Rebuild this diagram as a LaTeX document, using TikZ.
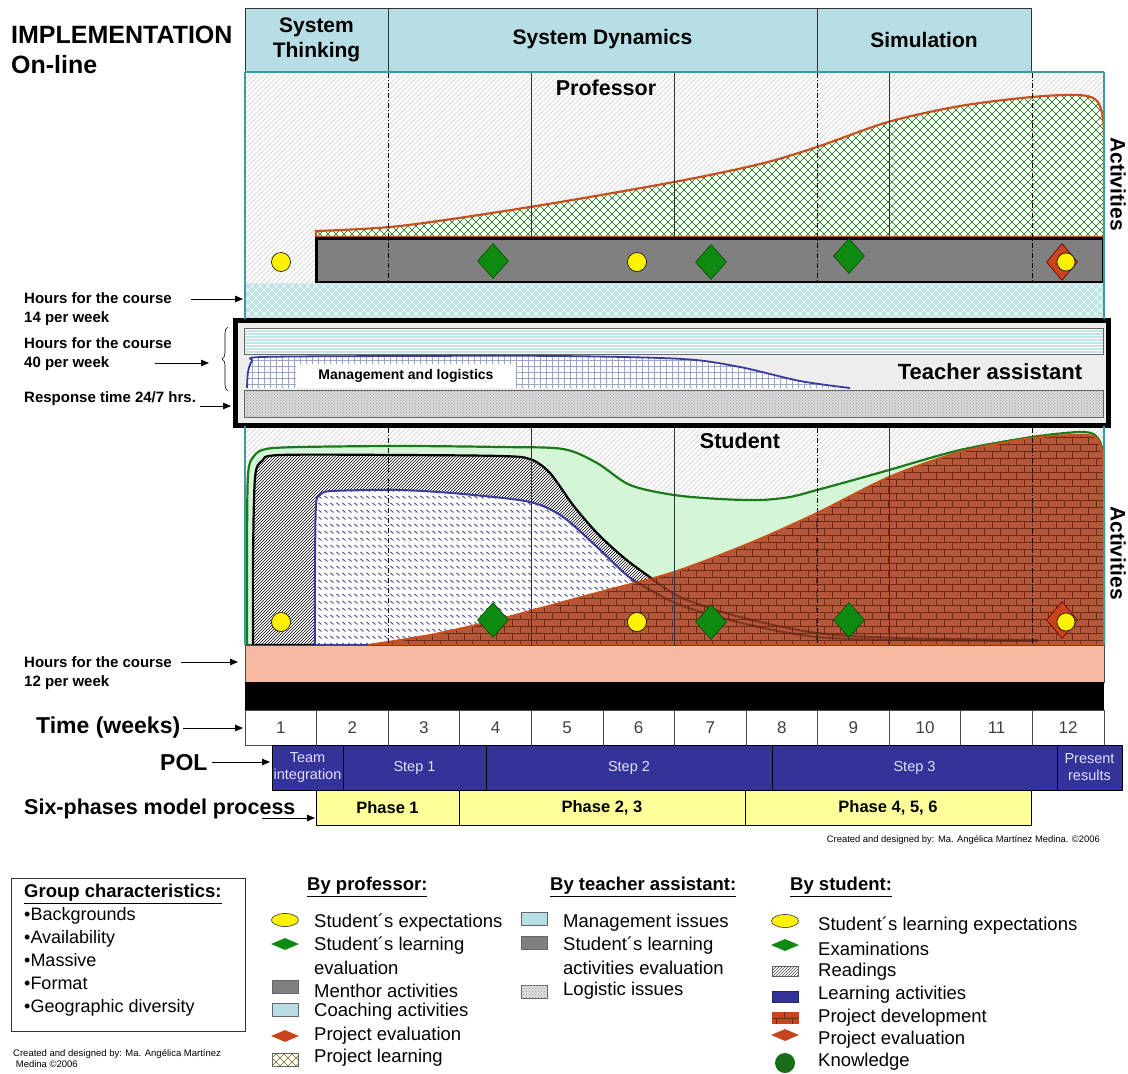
\documentclass[tikz,border=0pt]{standalone}
\usepackage{fontspec}
\setmainfont{Liberation Sans}
\usetikzlibrary{patterns,arrows.meta,decorations.pathreplacing,shapes.geometric}

\definecolor{hdrblue}{HTML}{B7DEE4}
\definecolor{tealline}{HTML}{3C9C9C}
\definecolor{cyanband}{HTML}{BFE4E6}
\definecolor{tastripe}{HTML}{C4E4E8}
\definecolor{salmon}{HTML}{F8B9A3}
\definecolor{polblue}{HTML}{333399}
\definecolor{phaseyel}{HTML}{FFFF99}
\definecolor{mint}{HTML}{D4F6D6}
\definecolor{kgreen}{HTML}{1A7A1A}
\definecolor{brickfill}{HTML}{B5573A}
\definecolor{brickline}{HTML}{6E2A14}
\definecolor{projorange}{HTML}{C8501E}
\definecolor{dgreen}{HTML}{0E8A10}
\definecolor{pred}{HTML}{C8441E}
\definecolor{mgrey}{HTML}{808080}
\definecolor{learnblue}{HTML}{3A3AA0}
\definecolor{dashblue}{HTML}{4A4A8A}
\definecolor{gridblue}{HTML}{9AA6C8}

% light background hatch
\pgfdeclarepatternformonly{lighthatch}{\pgfqpoint{-1pt}{-1pt}}{\pgfqpoint{6pt}{6pt}}{\pgfqpoint{5pt}{5pt}}{%
  \pgfsetlinewidth{0.5pt}%
  \pgfpathmoveto{\pgfqpoint{0pt}{0pt}}\pgfpathlineto{\pgfqpoint{5.1pt}{5.1pt}}\pgfusepath{stroke}}
% diamond lattice
\pgfdeclarepatternformonly{lattice}{\pgfqpoint{-1pt}{-1pt}}{\pgfqpoint{9pt}{9pt}}{\pgfqpoint{8pt}{8pt}}{%
  \pgfsetlinewidth{0.6pt}%
  \pgfpathmoveto{\pgfqpoint{0pt}{0pt}}\pgfpathlineto{\pgfqpoint{8pt}{8pt}}%
  \pgfpathmoveto{\pgfqpoint{0pt}{8pt}}\pgfpathlineto{\pgfqpoint{8pt}{0pt}}\pgfusepath{stroke}}
% brick wall
\pgfdeclarepatternformonly{brickwall}{\pgfqpoint{-1pt}{-1pt}}{\pgfqpoint{17pt}{15pt}}{\pgfqpoint{16pt}{14pt}}{%
  \pgfsetlinewidth{0.7pt}%
  \pgfpathmoveto{\pgfqpoint{0pt}{0pt}}\pgfpathlineto{\pgfqpoint{16pt}{0pt}}%
  \pgfpathmoveto{\pgfqpoint{0pt}{7pt}}\pgfpathlineto{\pgfqpoint{16pt}{7pt}}%
  \pgfpathmoveto{\pgfqpoint{0pt}{0pt}}\pgfpathlineto{\pgfqpoint{0pt}{7pt}}%
  \pgfpathmoveto{\pgfqpoint{8pt}{7pt}}\pgfpathlineto{\pgfqpoint{8pt}{14pt}}\pgfusepath{stroke}}
% rows of short dashes
\pgfdeclarepatternformonly{dashrows}{\pgfqpoint{-1pt}{-1pt}}{\pgfqpoint{7pt}{8pt}}{\pgfqpoint{6pt}{7pt}}{%
  \pgfsetlinewidth{0.9pt}%
  \pgfpathmoveto{\pgfqpoint{0.5pt}{4pt}}\pgfpathlineto{\pgfqpoint{3.5pt}{1.5pt}}\pgfusepath{stroke}}
% fine grid
\pgfdeclarepatternformonly{finegrid}{\pgfqpoint{-1pt}{-1pt}}{\pgfqpoint{7pt}{7pt}}{\pgfqpoint{6pt}{6pt}}{%
  \pgfsetlinewidth{0.4pt}%
  \pgfpathmoveto{\pgfqpoint{0pt}{0pt}}\pgfpathlineto{\pgfqpoint{6pt}{0pt}}%
  \pgfpathmoveto{\pgfqpoint{0pt}{0pt}}\pgfpathlineto{\pgfqpoint{0pt}{6pt}}\pgfusepath{stroke}}

\tikzset{
  hdrbox/.style={draw=black!80, line width=0.8pt, fill=hdrblue, align=center,
    font=\bfseries\fontsize{21}{25}\selectfont, inner sep=0},
  sidelbl/.style={font=\bfseries\fontsize{15}{19}\selectfont, align=left, inner sep=0, anchor=north west},
  biglbl/.style={font=\bfseries\fontsize{23}{25}\selectfont, inner sep=0, anchor=west},
  arr/.style={-{Triangle[length=8pt,width=6.5pt]}, line width=0.9pt},
  timecell/.style={draw=black!70, line width=0.7pt, fill=white, minimum width=71.58, minimum height=35,
    inner sep=0, font=\fontsize{17}{19}\selectfont, text=black!75},
  polcell/.style={draw=black, line width=0.6pt, fill=polblue, minimum height=45, inner sep=0,
    align=center, font=\fontsize{14.5}{17}\selectfont, text={rgb,255:red,224;green,224;blue,255}},
  phasecell/.style={draw=black, line width=0.7pt, fill=phaseyel, minimum height=35, inner sep=0,
    font=\bfseries\fontsize{16.5}{18}\selectfont},
  ycirc/.style={circle, fill=yellow, draw=black, line width=0.6pt, minimum size=19, inner sep=0},
  gdiam/.style={diamond, fill=dgreen, draw=black!70!green, line width=0.6pt, minimum width=31, minimum height=35, inner sep=0},
  rdiam/.style={diamond, fill=pred, draw=black!60!red, line width=0.6pt, minimum width=31, minimum height=37, inner sep=0},
  vdash/.style={line width=0.6pt, dash pattern=on 5pt off 2pt on 1pt off 2pt},
  vsolid/.style={line width=0.5pt, black!80},
  paneltitle/.style={font=\bfseries\fontsize{21.5}{24}\selectfont, inner sep=0},
  legtxt/.style={font=\fontsize{18.5}{21}\selectfont, inner sep=0, anchor=west},
  leghead/.style={font=\bfseries\fontsize{18.5}{21}\selectfont, inner sep=0, anchor=west},
  legrect/.style={draw=black!60, line width=0.7pt, minimum width=26, minimum height=13, inner sep=0},
  legdiam/.style={diamond, draw=none, minimum width=28, minimum height=12, inner sep=0},
  legell/.style={ellipse, draw=black!70, fill=yellow, line width=0.7pt, minimum width=27, minimum height=13, inner sep=0},
}

\begin{document}
\begin{tikzpicture}[x=1pt,y=-1pt]
\useasboundingbox (0,0) rectangle (1128,1074);

% ---------- title ----------
\node[inner sep=0, anchor=west, font=\bfseries\fontsize{25}{27}\selectfont] (title) at (11,35) {IMPLEMENTATION};
\node[inner sep=0, anchor=west, font=\bfseries\fontsize{25}{27}\selectfont] (subtitle) at (11,65) {On-line};

% ---------- header ----------
\node[hdrbox, minimum width=143, minimum height=63] (hST) at (316.5,39.5) {System\\Thinking};
\node[hdrbox, minimum width=429, minimum height=63] (hSD) at (602.5,39.5) {System Dynamics};
\node[hdrbox, minimum width=214, minimum height=63] (hSim) at (924,39.5) {Simulation};

% ---------- professor panel ----------
\fill[white] (245,72) rectangle (1104,283);
\path[pattern=lighthatch, pattern color=gray!40] (245,72) rectangle (1104,283);
\path[preaction={fill=white}, pattern=lattice, pattern color=green!45!black,
      postaction={draw=projorange, line width=2.2pt}]
  (316,237) -- plot[smooth, tension=0.5] coordinates {(316,231) (400,226) (530,207) (674,182) (760,164)
   (817,147) (888,122) (960,106) (1032,97) (1078,95) (1096,100) (1103,118) (1104,160) (1104,237)} -- cycle;
\foreach \xx in {531,674,889} \draw[vsolid] (\xx,73) -- (\xx,237);
\draw[fill=mgrey, line width=3pt] (316,238) rectangle (1103,282);
\foreach \xx in {388,817,1032} \draw[vdash] (\xx,73) -- (\xx,282);
\node[paneltitle] (profT) at (606,88) {Professor};
\node[paneltitle, font=\bfseries\fontsize{21}{24}\selectfont, rotate=-90] (actP) at (1118,184) {Activities};

\node[ycirc] (pm1) at (281,262) {};
\node[gdiam] (pm2) at (493,261) {};
\node[ycirc] (pm3) at (637,262) {};
\node[gdiam] (pm4) at (711,262) {};
\node[gdiam] (pm5) at (849,256) {};
\node[rdiam] (pm6) at (1062,262) {};
\node[ycirc, minimum size=18] (pm7) at (1066,262) {};

% ---------- coaching band ----------
\path[fill=cyanband] (245,283) rectangle (1104,318);
\path[pattern=lattice, pattern color=white] (245,283) rectangle (1104,318);

% ---------- teacher assistant ----------
\draw[fill=gray!14, line width=5pt] (235,320) rectangle (1108,425);
\path[fill=tastripe] (244,328) rectangle (1103,354);
\path[pattern=horizontal lines, pattern color=white] (244,328) rectangle (1103,354);
\draw[black!60, line width=0.6pt] (244,328) rectangle (1103,354);
\path[preaction={fill=white}, pattern=finegrid, pattern color=gridblue]
  (247,388) -- plot[smooth, tension=0.5] coordinates {(247,388) (248,372) (252,361) (262,357) (400,356)
   (560,356) (683,359) (740,367) (800,381) (850,388)} -- cycle;
\draw[learnblue, line width=1.8pt] plot[smooth, tension=0.5] coordinates {(247,388) (248,372) (252,361)
   (262,357) (400,356) (560,356) (683,359) (740,367) (800,381) (850,388)};
\node[fill=white, inner sep=0, minimum width=220, minimum height=24,
      font=\bfseries\fontsize{14}{16}\selectfont] (mgmt) at (406,376) {Management and logistics};
\path[fill=gray!30] (244,390) rectangle (1103,417);
\path[pattern=crosshatch dots, pattern color=gray!75] (244,390) rectangle (1103,417);
\draw[black!60, line width=0.6pt] (244,390) rectangle (1103,417);
\node[inner sep=0, font=\bfseries\fontsize{22}{24}\selectfont] (taT) at (990,372) {Teacher assistant};

% ---------- student panel ----------
\fill[white] (245,428) rectangle (1104,645);
\path[pattern=lighthatch, pattern color=gray!40] (245,428) rectangle (1104,645);
% knowledge
\path[fill=mint, draw=kgreen, line width=2.2pt]
  (247,645) -- plot[smooth, tension=0.5] coordinates {(247,640) (247,560) (248,475) (254,456) (266,449)
   (300,447) (400,446) (500,447) (563,449) (597,463) (630,485) (674,495) (720,499) (760,500) (790,497)
   (817,490) (850,481) (889,470) (960,450) (1032,437) (1080,432) (1096,436) (1103,455) (1104,520)
   (1104,640)} -- (1104,645) -- cycle;
% readings
\path[preaction={fill=white}, pattern=north east lines, pattern color=black,
      postaction={draw=black, line width=2.2pt}]
  (253,645) -- plot[smooth, tension=0.5] coordinates {(253,642) (253,560) (255,478) (262,461) (280,455)
   (400,455) (500,456) (530,459) (550,473) (573,505) (597,533) (623,557) (647,575) (680,597) (740,617)
   (817,633) (900,638) (1038,640)} -- (1038,645) -- cycle;
% learning activities
\path[preaction={fill=white}, pattern=dashrows, pattern color=dashblue,
      postaction={draw=learnblue, line width=2pt}]
  (315,645) -- plot[smooth, tension=0.5] coordinates {(315,642) (315,570) (316,505) (320,495) (332,491)
   (400,490) (463,494) (530,502) (563,517) (597,547) (633,580) (680,605) (750,625) (817,637) (900,640)
   (1038,641)} -- (1038,645) -- cycle;
% project development
\path[preaction={fill=brickfill}, pattern=brickwall, pattern color=brickline,
      postaction={draw=projorange, line width=2pt}]
  (368,645) -- plot[smooth, tension=0.5] coordinates {(368,645) (430,635) (493,621) (530,611) (600,592)
   (674,572) (750,543) (817,513) (889,477) (960,452) (1032,438) (1085,435) (1098,440) (1103,460)
   (1104,520) (1104,645)} -- cycle;
% fading tails under the project area
\draw[brickline!70!black, line width=2pt, opacity=0.55] plot[smooth, tension=0.5] coordinates
  {(647,575) (680,597) (740,617) (817,633) (900,638) (1038,640)};
\draw[brickline!70!black, line width=2pt, opacity=0.55] plot[smooth, tension=0.5] coordinates
  {(633,580) (680,605) (750,625) (817,637) (900,640) (1038,641)};
\foreach \xx in {531,674,889} \draw[vsolid] (\xx,428) -- (\xx,645);
\foreach \xx in {388,817,1032} \draw[vdash] (\xx,428) -- (\xx,645);
\node[paneltitle] (studT) at (740,441) {Student};
\node[paneltitle, font=\bfseries\fontsize{21}{24}\selectfont, rotate=-90] (actS) at (1118,553) {Activities};

\node[ycirc] (sm1) at (281,622) {};
\node[gdiam] (sm2) at (493,620) {};
\node[ycirc] (sm3) at (637,622) {};
\node[gdiam] (sm4) at (711,622) {};
\node[gdiam] (sm5) at (849,620) {};
\node[rdiam] (sm6) at (1062,620) {};
\node[ycirc, minimum size=18] (sm7) at (1066,622) {};

% outer teal frame of the activity panels
\draw[tealline, line width=1.4pt] (245,72) -- (1104,72);
\draw[tealline, line width=1.4pt] (245,72) -- (245,319);
\draw[tealline, line width=1.4pt] (1104,72) -- (1104,319);
\draw[tealline, line width=1.4pt] (245,426) -- (245,645);
\draw[tealline, line width=1.4pt] (1104,426) -- (1104,645);

% ---------- bottom bands ----------
\draw[fill=salmon, draw=black!70, line width=0.6pt] (245,645) rectangle (1104,682);
\fill[black] (245,682) rectangle (1104,710);

% ---------- time row ----------
\foreach \i in {1,...,12}
  \node[timecell] (t\i) at ({245+71.58*(\i-0.5)},727.5) {\i};

% ---------- POL row ----------
\node[polcell, minimum width=71] (polA) at (307.5,767.5) {Team\\integration};
\node[polcell, minimum width=143] (polB) at (414.5,767.5) {Step 1};
\node[polcell, minimum width=286] (polC) at (629,767.5) {Step 2};
\node[polcell, minimum width=285] (polD) at (914.5,767.5) {Step 3};
\node[polcell, minimum width=65] (polE) at (1089.5,767.5) {Present\\results};

% ---------- six-phase row ----------
\node[phasecell, minimum width=143] (ph1) at (387.5,807.5) {Phase 1};
\node[phasecell, minimum width=286] (ph2) at (602,807.5) {Phase 2, 3};
\node[phasecell, minimum width=286] (ph3) at (888,807.5) {Phase 4, 5, 6};

\node[inner sep=0, anchor=east, font=\fontsize{9.4}{10}\selectfont] (credit1) at (1100,840)
  {Created and designed by: Ma. Angélica Martínez Medina. ©2006};

% ---------- side labels and arrows ----------
\node[sidelbl] (lbl14) at (24,292.5) {Hours for the course\\14 per week};
\coordinate (a14s) at (191,299); \coordinate (a14e) at (243,299);
\draw[arr] (a14s) -- (a14e);

\node[sidelbl] (lbl40) at (24,337.5) {Hours for the course\\40 per week};
\coordinate (a40s) at (155,363); \coordinate (a40e) at (209,363);
\draw[arr] (a40s) -- (a40e);
\coordinate (brB) at (228,391); \coordinate (brT) at (228,327);
\draw[decorate, decoration={brace, amplitude=6pt}, line width=0.6pt] (brB) -- (brT);

\node[sidelbl] (lblresp) at (24,391.5) {Response time 24/7 hrs.};
\coordinate (arss) at (200,406); \coordinate (arse) at (231,406);
\draw[arr] (arss) -- (arse);

\node[sidelbl] (lbl12) at (24,656.5) {Hours for the course\\12 per week};
\coordinate (a12s) at (181,662); \coordinate (a12e) at (238,662);
\draw[arr] (a12s) -- (a12e);

\node[biglbl] (timelbl) at (36,728) {Time (weeks)};
\coordinate (timeArrS) at (183,728); \coordinate (timeArrE) at (243,728);
\draw[arr] (timeArrS) -- (timeArrE);
\node[biglbl] (pollbl) at (160,763) {POL};
\coordinate (polArrS) at (212,762); \coordinate (polArrE) at (270,762);
\draw[arr] (polArrS) -- (polArrE);
\node[biglbl, font=\bfseries\fontsize{21.5}{23}\selectfont] (sixlbl) at (24,809) {Six-phases model process};
\coordinate (sixS) at (262,818); \coordinate (sixE) at (315,818);
\draw[arr] (sixS) -- (sixE);

% ---------- legend: group characteristics ----------
\draw[line width=1pt, black!80] (11,878) rectangle (245,1031);
\node[inner sep=0, anchor=north west, align=left, font=\fontsize{18}{23}\selectfont] (grptxt) at (24,884)
  {{\bfseries\fontsize{18.5}{23}\selectfont\underline{Group characteristics:}}\\
   •Backgrounds\\ •Availability\\ •Massive\\ •Format\\ •Geographic diversity};
\node[inner sep=0, anchor=north west, align=left, font=\fontsize{9.5}{11}\selectfont] (credit2) at (13,1049)
  {Created and designed by: Ma. Angélica Martínez\\ \ Medina ©2006};

% ---------- legend: by professor ----------
\node[leghead] (hdP) at (307,887) {\underline{By professor:}};
\node[legell] (lgP1) at (285,920) {};
\node[legdiam, fill=dgreen] (lgP2) at (285,944) {};
\node[legrect, fill=mgrey] (lgP3) at (285,987) {};
\node[legrect, fill=hdrblue] (lgP4) at (285,1010) {};
\node[legdiam, fill=pred] (lgP5) at (285,1036) {};
\node[legrect, fill=yellow!12, postaction={pattern=lattice, pattern color=black!60}] (lgP6) at (285,1060) {};
\node[legtxt] (ltP1) at (314,923) {Student´s expectations};
\node[legtxt] (ltP2) at (314,946) {Student´s learning};
\node[legtxt] (ltP2b) at (314,968) {evaluation};
\node[legtxt] (ltP3) at (314,991) {Menthor activities};
\node[legtxt] (ltP4) at (314,1012) {Coaching activities};
\node[legtxt] (ltP5) at (314,1036) {Project evaluation};
\node[legtxt] (ltP6) at (314,1058) {Project learning};

% ---------- legend: by teacher assistant ----------
\node[leghead] (hdT) at (550,887) {\underline{By teacher assistant:}};
\node[legrect, fill=hdrblue] (lgT1) at (534,919) {};
\node[legrect, fill=mgrey] (lgT2) at (534,943) {};
\node[legrect, fill=gray!25, postaction={pattern=crosshatch dots, pattern color=gray!80}] (lgT3) at (534,992) {};
\node[legtxt] (ltT1) at (563,923) {Management issues};
\node[legtxt] (ltT2) at (563,946) {Student´s learning};
\node[legtxt] (ltT2b) at (563,968) {activities evaluation};
\node[legtxt] (ltT3) at (563,991) {Logistic issues};

% ---------- legend: by student ----------
\node[leghead] (hdS) at (790,887) {\underline{By student:}};
\node[legell] (lgS1) at (785,921) {};
\node[legdiam, fill=dgreen] (lgS2) at (785,945) {};
\node[legrect, fill=white, postaction={pattern=north east lines, pattern color=black!70}, minimum height=10] (lgS3) at (785,971) {};
\node[legrect, fill=polblue, draw=polblue!70!black, minimum height=11] (lgS4) at (785,997) {};
\node[legrect, fill=pred, draw=pred, postaction={pattern=brickwall, pattern color=brickline}, minimum height=11] (lgS5) at (785,1018) {};
\node[legdiam, fill=pred] (lgS6) at (785,1035) {};
\node[circle, fill=kgreen!90!black, minimum size=20, inner sep=0] (lgS7) at (785,1063) {};
\node[legtxt] (ltS1) at (818,926) {Student´s learning expectations};
\node[legtxt] (ltS2) at (818,949) {Examinations};
\node[legtxt] (ltS3) at (818,972) {Readings};
\node[legtxt] (ltS4) at (818,995) {Learning activities};
\node[legtxt] (ltS5) at (818,1018) {Project development};
\node[legtxt] (ltS6) at (818,1040) {Project evaluation};
\node[legtxt] (ltS7) at (818,1062) {Knowledge};
\end{tikzpicture}
\end{document}
